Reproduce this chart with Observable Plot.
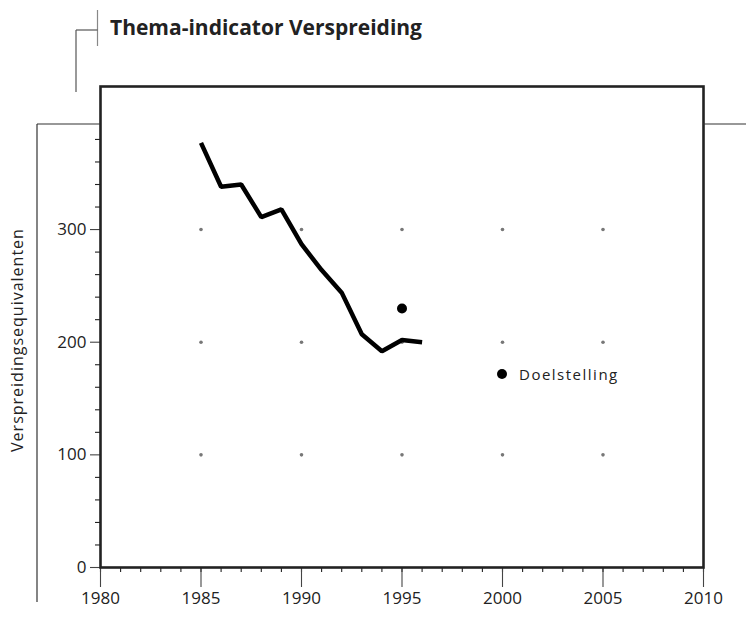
<!DOCTYPE html>
<html>
<head>
<meta charset="utf-8">
<script src="https://cdn.jsdelivr.net/npm/d3@7"></script>
<script src="https://cdn.jsdelivr.net/npm/@observablehq/plot@0.6"></script>
<style>
  html, body { margin: 0; padding: 0; background: #fff; }
  #wrap { position: relative; width: 746px; height: 630px; font-family: "Open Sans", sans-serif; }
  #legend { position: absolute; left: 497px; top: 364px; display: flex; align-items: center; font-size: 15px; letter-spacing: 1.5px; color: #222; }
  #legend .sw { width: 10px; height: 10px; border-radius: 50%; background: #000; margin-right: 12px; }
</style>
</head>
<body>
<div id="wrap"><div id="legend"><span class="sw"></span><span id="legendText"></span></div></div>
<script>
// ---- data ----
const years = [1985, 1986, 1987, 1988, 1989, 1990, 1991, 1992, 1993, 1994, 1995, 1996];
const values = [377, 338, 340, 311, 318, 287, 264, 244, 207, 192, 202, 200];
const targetYear = [1995];
const targetValue = [230];
const legendLabel = "Doelstelling";
const xTicks = [1980, 1985, 1990, 1995, 2000, 2005, 2010];
const yTicks = [0, 100, 200, 300];
const gridYears = [1985, 1990, 1995, 2000, 2005];
const gridValues = [100, 200, 300];
const yMinorTicks = [20, 40, 60, 80, 120, 140, 160, 180, 220, 240, 260, 280, 320, 340, 360, 380];
const xMinorTicks = d3.range(1980, 2011);
const title = "Thema-indicator Verspreiding";
const yLabel = "Verspreidingsequivalenten";

const series = years.map((y, i) => ({year: y, value: values[i]}));
const target = targetYear.map((y, i) => ({year: y, value: targetValue[i]}));
const grid = gridYears.flatMap(y => gridValues.map(v => ({year: y, value: v})));

const ink = "#222";
const chart = Plot.plot({
  width: 746,
  height: 630,
  marginTop: 86,
  marginRight: 43,
  marginBottom: 63,
  marginLeft: 100,
  style: {fontFamily: "'Open Sans', sans-serif", fontSize: "17px", color: ink, background: "transparent", overflow: "visible"},
  x: {domain: [1980, 2010], label: null},
  y: {domain: [0, 427], label: null},
  marks: [
    Plot.dot(grid, {x: "year", y: "value", r: 1.8, fill: "#777", stroke: null}),
    Plot.axisX({ticks: xMinorTicks, tickSize: 5, text: null, label: null, stroke: ink, strokeWidth: 1.1}),
    Plot.axisX({ticks: xTicks, tickSize: 20, tickPadding: 4, tickFormat: d => String(d), label: null, stroke: "#444", strokeWidth: 1.1, fill: ink, fontSize: 17}),
    Plot.axisY({ticks: yMinorTicks, tickSize: 5, text: null, label: null, stroke: ink, strokeWidth: 1.1}),
    Plot.axisY({ticks: yTicks, tickSize: 10, tickPadding: 4, label: null, stroke: "#444", strokeWidth: 1.1, fill: ink, fontSize: 17}),
    Plot.frame({stroke: ink, strokeWidth: 2.6}),
    Plot.line(series, {x: "year", y: "value", stroke: "#000", strokeWidth: 4.5, strokeLinejoin: "miter", strokeLinecap: "butt"}),
    Plot.dot(target, {x: "year", y: "value", r: 5, fill: "#000", stroke: null})
  ]
});

const wrap = document.getElementById("wrap");
wrap.insertBefore(chart, wrap.firstChild);
document.getElementById("legendText").textContent = legendLabel;

// decorations
const svg = d3.select(chart);
const deco = svg.append("g").attr("fill", "none").attr("stroke-width", 1.2);
const segs = [
  [97.5, 10, 97.5, 46, "#888"],
  [76, 30, 97.5, 30, "#555"],
  [76, 30, 76, 92, "#555"],
  [37, 124, 100, 124, "#333"],
  [37, 124, 37, 602, "#333"],
  [703, 124, 746, 124, "#333"]
];
segs.forEach(([x1, y1, x2, y2, c]) => deco.append("line").attr("x1", x1).attr("y1", y1).attr("x2", x2).attr("y2", y2).attr("stroke", c));

svg.append("text")
  .attr("x", 110).attr("y", 35)
  .attr("text-anchor", "start")
  .attr("font-family", "'Open Sans', sans-serif")
  .attr("font-weight", "bold").attr("font-size", 21)
  .attr("fill", ink)
  .text(title);

svg.append("text")
  .attr("transform", "translate(23,340) rotate(-90)")
  .attr("text-anchor", "middle")
  .attr("font-family", "'Open Sans', sans-serif")
  .attr("font-size", 16).attr("letter-spacing", "1px")
  .attr("fill", ink)
  .text(yLabel);
</script>
</body>
</html>
